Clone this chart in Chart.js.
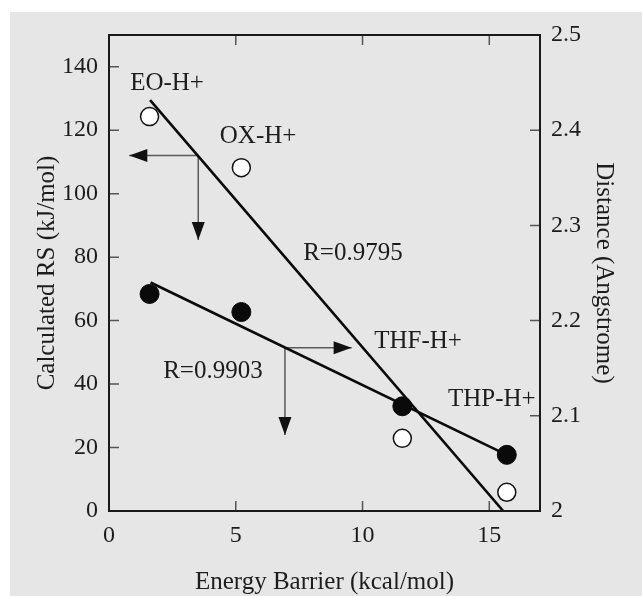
<!DOCTYPE html>
<html><head><meta charset="utf-8">
<script src="https://cdn.jsdelivr.net/npm/chart.js@4/dist/chart.umd.min.js"></script>
<style>html,body{margin:0;padding:0;background:#fff;overflow:hidden}#wrap{width:642px;height:596px;position:relative}canvas{display:block}</style>
</head><body><div id="wrap"><canvas id="c" width="642" height="596" style="width:642px;height:596px"></canvas></div>
<script>
// ---- data ----
const compounds = ['EO-H+', 'OX-H+', 'THF-H+', 'THP-H+'];
const energyBarrier = [1.6, 5.22, 11.57, 15.69];          // kcal/mol
const calculatedRS = [124.3, 108.2, 22.9, 5.9];            // kJ/mol (open circles, left axis)
const distance = [2.228, 2.209, 2.110, 2.059];             // Angstrome (filled circles, right axis)
const rsFitX = [1.62, 15.55];
const rsFitY = [129.5, 0];
const rsFitLabel = 'R=0.9795';
const distFitX = [1.64, 15.69];
const distFitY = [2.240, 2.059];
const distFitLabel = 'R=0.9903';
const xTicks = [0, 5, 10, 15];
const rsTicks = [0, 20, 40, 60, 80, 100, 120, 140];
const distTicks = [2, 2.1, 2.2, 2.3, 2.4, 2.5];
// arrows (start on fit line, end = arrow tip)
const rsArrowLeftX = [3.52, 0.8];
const rsArrowLeftY = [112.0, 112.0];
const rsArrowDownX = [3.52, 3.52];
const rsArrowDownY = [112.0, 85.4];
const distArrowRightX = [6.94, 9.57];
const distArrowRightY = [2.1715, 2.1715];
const distArrowDownX = [6.94, 6.94];
const distArrowDownY = [2.1715, 2.0798];
// text annotations anchored in data units (x, left axis)
const noteTexts = [compounds[0], compounds[1], compounds[2], compounds[3], rsFitLabel, distFitLabel];
const noteX = [2.29, 5.88, 12.19, 15.1, 9.62, 4.1];
const noteY = [134.8, 118.0, 53.4, 35.3, 81.2, 43.9];

const FONT = '"Liberation Serif", "Times New Roman", serif';
const TEXT = '#1c1c1c';
const pts = (xs, ys) => xs.map((x, i) => ({x: x, y: ys[i]}));

const bgPlugin = {
  id: 'bg',
  beforeDraw(chart) {
    const c = chart.ctx;
    c.save();
    c.fillStyle = '#ffffff';
    c.fillRect(0, 0, chart.width, chart.height);
    c.fillStyle = '#e6e6e6';
    c.fillRect(10, 12, chart.width - 10, chart.height - 12);
    c.restore();
  }
};

const framePlugin = {
  id: 'frame',
  afterDraw(chart) {
    const c = chart.ctx, a = chart.chartArea;
    const sx = chart.scales.x, sy = chart.scales.y, sy1 = chart.scales.y1;
    const L = 10;
    c.save();
    c.strokeStyle = '#555';
    c.lineWidth = 1.5;
    c.beginPath();
    sx.ticks.forEach(t => {
      if (t.value <= sx.min || t.value >= sx.max) return;
      const px = sx.getPixelForValue(t.value);
      c.moveTo(px, a.bottom); c.lineTo(px, a.bottom - L);
      c.moveTo(px, a.top); c.lineTo(px, a.top + L);
    });
    sy.ticks.forEach(t => {
      if (t.value <= sy.min || t.value >= sy.max) return;
      const py = sy.getPixelForValue(t.value);
      c.moveTo(a.left, py); c.lineTo(a.left + L, py);
    });
    sy1.ticks.forEach(t => {
      if (t.value <= sy1.min || t.value >= sy1.max) return;
      const py = sy1.getPixelForValue(t.value);
      c.moveTo(a.right, py); c.lineTo(a.right - L, py);
    });
    c.stroke();
    c.strokeStyle = '#1a1a1a';
    c.lineWidth = 2;
    c.strokeRect(a.left, a.top, a.right - a.left, a.bottom - a.top);
    c.restore();
  }
};

const arrowPlugin = {
  id: 'arrows',
  afterDatasetsDraw(chart) {
    const c = chart.ctx;
    chart.data.datasets.forEach((ds, i) => {
      if (!ds.arrowHead) return;
      const m = chart.getDatasetMeta(i).data;
      const p0 = m[m.length - 2], p1 = m[m.length - 1];
      const ang = Math.atan2(p1.y - p0.y, p1.x - p0.x);
      const len = 18, hw = 6.5;
      c.save();
      c.translate(p1.x, p1.y);
      c.rotate(ang);
      c.fillStyle = '#111';
      c.beginPath();
      c.moveTo(0, 0);
      c.lineTo(-len, -hw);
      c.lineTo(-len, hw);
      c.closePath();
      c.fill();
      c.restore();
    });
  }
};

const notePlugin = {
  id: 'notes',
  afterDraw(chart) {
    const c = chart.ctx, sx = chart.scales.x, sy = chart.scales.y;
    c.save();
    c.font = '25px ' + FONT;
    c.fillStyle = TEXT;
    c.textAlign = 'center';
    c.textBaseline = 'middle';
    noteTexts.forEach((t, i) => {
      c.fillText(t, sx.getPixelForValue(noteX[i]), sy.getPixelForValue(noteY[i]));
    });
    c.restore();
  }
};

const arrowLine = (xs, ys, axis) => ({
  type: 'line', data: pts(xs, ys), yAxisID: axis, showLine: true,
  borderColor: '#5a5a5a', borderWidth: 1.5, pointRadius: 0, fill: false, arrowHead: true, order: 3
});

new Chart(document.getElementById('c'), {
  type: 'scatter',
  data: {
    datasets: [
      {label: 'Calculated RS', data: pts(energyBarrier, calculatedRS), yAxisID: 'y',
       pointRadius: 9, pointBackgroundColor: '#ffffff', pointBorderColor: '#111', pointBorderWidth: 1.5, order: 0},
      {label: 'Distance', data: pts(energyBarrier, distance), yAxisID: 'y1',
       pointRadius: 9.5, pointBackgroundColor: '#0a0a0a', pointBorderColor: '#0a0a0a', pointBorderWidth: 1, order: 0},
      {type: 'line', label: 'RS fit', data: pts(rsFitX, rsFitY), yAxisID: 'y', showLine: true,
       borderColor: '#0a0a0a', borderWidth: 2.6, pointRadius: 0, fill: false, order: 2},
      {type: 'line', label: 'Distance fit', data: pts(distFitX, distFitY), yAxisID: 'y1', showLine: true,
       borderColor: '#0a0a0a', borderWidth: 2.6, pointRadius: 0, fill: false, order: 2},
      arrowLine(rsArrowLeftX, rsArrowLeftY, 'y'),
      arrowLine(rsArrowDownX, rsArrowDownY, 'y'),
      arrowLine(distArrowRightX, distArrowRightY, 'y1'),
      arrowLine(distArrowDownX, distArrowDownY, 'y1')
    ]
  },
  options: {
    responsive: false,
    maintainAspectRatio: false,
    animation: false,
    devicePixelRatio: 1,
    layout: {padding: {top: 35, left: 0, right: 0, bottom: 0}},
    plugins: {legend: {display: false}, tooltip: {enabled: false}},
    scales: {
      x: {
        type: 'linear', position: 'bottom', min: 0, max: 17,
        afterBuildTicks: s => { s.ticks = xTicks.map(v => ({value: v})); },
        afterFit: s => { s.height = 85; },
        grid: {display: false, drawTicks: false},
        border: {display: false},
        ticks: {font: {family: FONT, size: 24}, color: TEXT, padding: 10, maxRotation: 0, autoSkip: false,
                callback: v => String(v)},
        title: {display: true, text: 'Energy Barrier (kcal/mol)', color: TEXT,
                font: {family: FONT, size: 25, lineHeight: 1}, padding: {top: 0, bottom: 1}}
      },
      y: {
        type: 'linear', position: 'left', min: 0, max: 150,
        afterBuildTicks: s => { s.ticks = rsTicks.map(v => ({value: v})); },
        afterFit: s => { s.width = 109; },
        grid: {display: false, drawTicks: false},
        border: {display: false},
        ticks: {font: {family: FONT, size: 24}, color: TEXT, padding: 11, autoSkip: false,
                callback: v => String(v)},
        title: {display: true, text: 'Calculated RS (kJ/mol)', color: TEXT,
                font: {family: FONT, size: 25, lineHeight: 1}, padding: {top: 35, bottom: 0}}
      },
      y1: {
        type: 'linear', position: 'right', min: 2, max: 2.5,
        afterBuildTicks: s => { s.ticks = distTicks.map(v => ({value: v})); },
        afterFit: s => { s.width = 102; },
        grid: {display: false, drawTicks: false},
        border: {display: false},
        ticks: {font: {family: FONT, size: 24}, color: TEXT, padding: 11, autoSkip: false,
                callback: v => String(v)},
        title: {display: true, text: 'Distance (Angstrome)', color: TEXT,
                font: {family: FONT, size: 25, lineHeight: 1}, padding: {top: 26, bottom: 0}}
      }
    }
  },
  plugins: [bgPlugin, arrowPlugin, framePlugin, notePlugin]
});
</script></body></html>
